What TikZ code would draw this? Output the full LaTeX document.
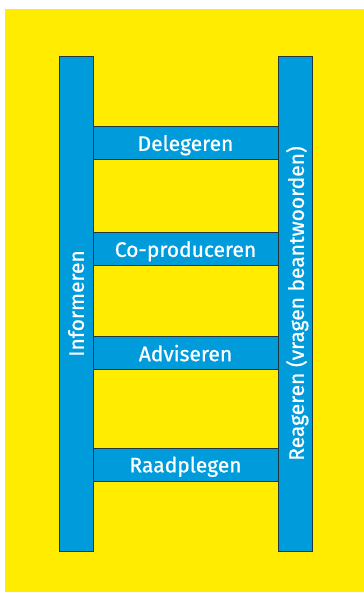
\documentclass[tikz,border=0pt]{standalone}
\usepackage{fontspec}
\setmainfont{Fira Sans}
\newfontfamily\ladderfont{Fira Sans}[FakeBold=0.8]
\definecolor{ladderBlue}{RGB}{0,155,219}
\definecolor{ladderYellow}{RGB}{255,236,0}
\definecolor{ladderEdge}{RGB}{35,55,65}
\begin{document}
\begin{tikzpicture}
[x=1pt,y=-1pt,%
  railDecorate/.style={shape=rectangle,fill=ladderBlue,draw=ladderEdge,line width=0.8pt,%
    minimum width=495pt,minimum height=34pt,inner sep=0pt,rotate=90,text depth=0pt,%
    text=white,font=\ladderfont\fontsize{21}{25}\selectfont},%
  rungDecorate/.style={shape=rectangle,fill=ladderBlue,draw=ladderEdge,line width=0.8pt,%
    minimum width=185pt,minimum height=33pt,inner sep=0pt,text depth=0pt,%
    text=white,font=\ladderfont\fontsize{21}{25}\selectfont}]
%% background
\useasboundingbox (0,0) rectangle (364,592);
\fill[ladderYellow] (5,9) rectangle (364,592);
%% rungs
\node (delegeren) at (185.5,143) [rungDecorate] {Delegeren};
\node (coproduceren) at (185.5,249) [rungDecorate] {Co-produceren};
\node (adviseren) at (185.5,353) [rungDecorate] {Adviseren};
\node (raadplegen) at (185.5,464.5) [rungDecorate] {Raadplegen};
%% rails
\node (informeren) at (76,303.5) [railDecorate] {Informeren};
\node (reageren) at (295,303.5) [railDecorate] {Reageren (vragen beantwoorden)};
\end{tikzpicture}
\end{document}
